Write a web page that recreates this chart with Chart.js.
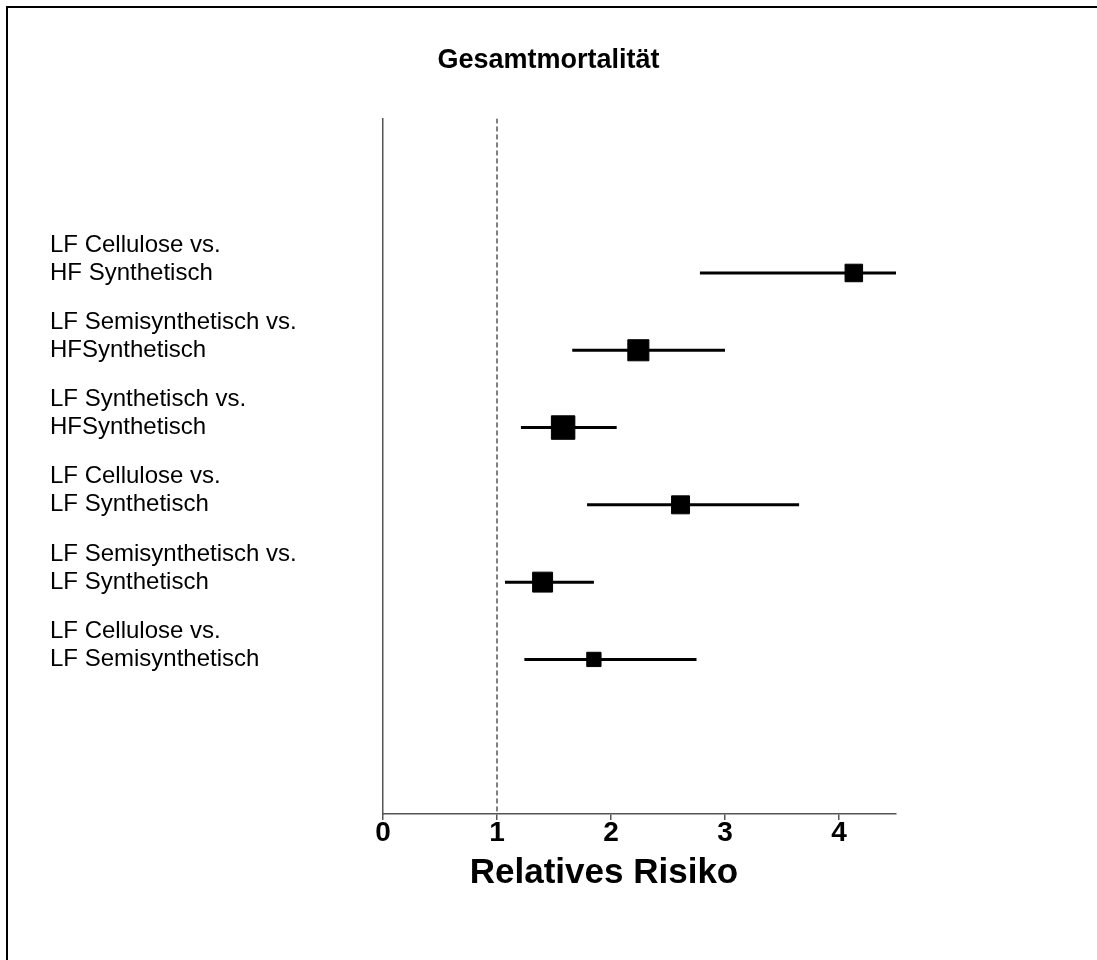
<!DOCTYPE html>
<html>
<head>
<meta charset="utf-8">
<title>Gesamtmortalität</title>
<script src="https://cdn.jsdelivr.net/npm/chart.js@4.4.1/dist/chart.umd.min.js"></script>
<style>
  html, body { margin: 0; padding: 0; background: #fff; overflow: hidden; }
  body { width: 1097px; height: 960px; position: relative; }
  /* only the left and top edge of the frame fall inside the picture */
  #frame { position: absolute; left: 6px; top: 6px; width: 1200px; height: 1100px;
           border-left: 2px solid #000; border-top: 2px solid #000; }
  canvas { position: absolute; left: 0; top: 0; }
</style>
</head>
<body>
<div id="frame"></div>
<canvas id="forest" width="1097" height="960"></canvas>
<script>
const comparisons = [
  ['LF Cellulose vs.', 'HF Synthetisch'],
  ['LF Semisynthetisch vs.', 'HFSynthetisch'],
  ['LF Synthetisch vs.', 'HFSynthetisch'],
  ['LF Cellulose vs.', 'LF Synthetisch'],
  ['LF Semisynthetisch vs.', 'LF Synthetisch'],
  ['LF Cellulose vs.', 'LF Semisynthetisch'],
];
const rowPos = [2, 3, 4, 5, 6, 7];
const relRisk = [4.13, 2.24, 1.58, 2.61, 1.40, 1.85];
const ciLow = [2.78, 1.66, 1.21, 1.79, 1.07, 1.24];
const ciHigh = [4.5, 3.0, 2.05, 3.65, 1.85, 2.75];
const xTicks = [0, 1, 2, 3, 4];
const refValue = 1;

const chartTitle = 'Gesamtmortalität';
const xTitle = 'Relatives Risiko';

// square size per study (weight)
const markerRadius = [12.4, 14.9, 16.6, 12.7, 14.1, 10.1];

const FONT = '"Liberation Sans", Arial, sans-serif';
const AXIS_COLOR = '#555';

const ciSets = rowPos.map((y, i) => ({
  type: 'line',
  data: [{ x: ciLow[i], y: y }, { x: ciHigh[i], y: y }],
  borderColor: '#000',
  borderWidth: 3,
  pointRadius: 0,
  order: 2,
}));

// axis title sits centred under the labelled ticks
const axisTitle = {
  id: 'axisTitle',
  afterDraw(chart) {
    const { ctx, scales: { x } } = chart;
    const last = x.getPixelForValue(xTicks[xTicks.length - 1]);
    ctx.save();
    ctx.font = 'bold 35px ' + FONT;
    ctx.fillStyle = '#000';
    ctx.textAlign = 'center';
    ctx.textBaseline = 'middle';
    ctx.fillText(xTitle, (x.left + last) / 2 - 7, x.bottom + 27);
    ctx.restore();
  }
};

new Chart('forest', {
  type: 'scatter',
  data: {
    datasets: [
      {
        data: rowPos.map((y, i) => ({ x: relRisk[i], y: y })),
        pointStyle: 'rect',
        pointRadius: markerRadius,
        backgroundColor: '#000',
        borderColor: '#000',
        borderWidth: 1,
        order: 1,
      },
      ...ciSets,
      {
        type: 'line',
        data: [{ x: refValue, y: 0 }, { x: refValue, y: 9 }],
        borderColor: '#000',
        borderWidth: 1,
        borderDash: [5, 3],
        pointRadius: 0,
        order: 3,
      },
    ],
  },
  options: {
    responsive: false,
    animation: false,
    events: [],
    devicePixelRatio: 1,
    layout: { padding: { left: 50, right: 50, top: 0, bottom: 114 } },
    plugins: {
      legend: { display: false },
      tooltip: { enabled: false },
      title: {
        display: true,
        text: chartTitle,
        color: '#000',
        font: { family: FONT, size: 27, weight: 'bold', lineHeight: 1.2 },
        padding: { top: 44, bottom: 42 },
      },
    },
    scales: {
      x: {
        type: 'linear',
        min: 0,
        max: 4.5,
        afterBuildTicks: (scale) => { scale.ticks = xTicks.map(v => ({ value: v })); },
        grid: { display: true, drawOnChartArea: false, drawTicks: true, tickLength: 6, color: AXIS_COLOR, lineWidth: 1.5 },
        border: { display: true, color: AXIS_COLOR, width: 1.5 },
        ticks: {
          color: '#000',
          padding: -1,
          maxRotation: 0,
          font: { family: FONT, size: 28, weight: 'bold', lineHeight: 1 },
        },
      },
      y: {
        type: 'linear',
        position: 'left',
        min: 0,
        max: 9,
        reverse: true,
        afterBuildTicks: (scale) => { scale.ticks = rowPos.map(v => ({ value: v })); },
        afterFit: (scale) => { scale.width = 333; },
        grid: { display: false },
        border: { display: true, color: AXIS_COLOR, width: 1.5 },
        ticks: {
          autoSkip: false,
          crossAlign: 'far',
          color: '#000',
          font: { family: FONT, size: 24, lineHeight: 28 / 24 },
          // blank third line lifts the two-line label so its second line meets the row
          callback: (value) => [...comparisons[rowPos.indexOf(value)], ''],
        },
      },
      // empty right-hand strip, keeps the plot narrow while the title stays centred on the page
      yRight: {
        type: 'linear',
        position: 'right',
        grid: { display: false },
        border: { display: false },
        ticks: { display: false },
        afterFit: (scale) => { scale.width = 151; },
      },
    },
  },
  plugins: [axisTitle],
});
</script>
</body>
</html>
